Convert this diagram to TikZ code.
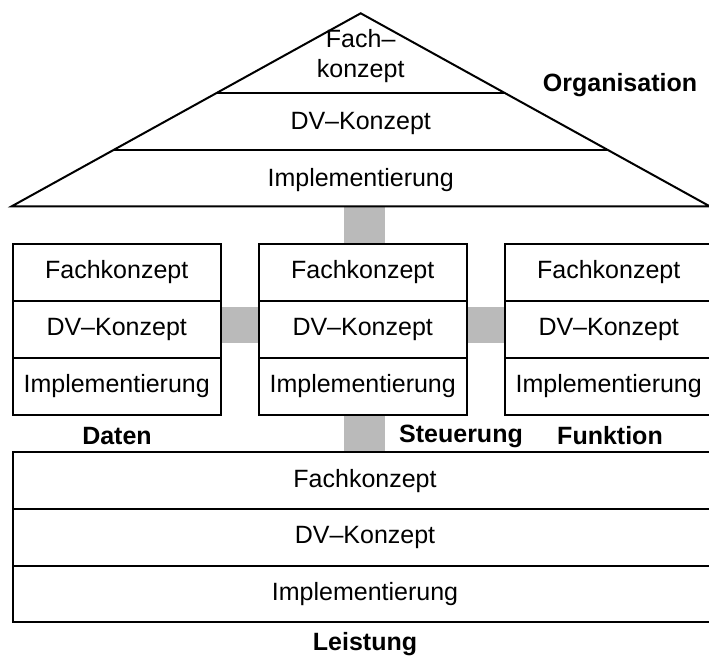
\documentclass[tikz,border=0pt]{standalone}
\usepackage{fontspec}
\setmainfont{Liberation Sans}
\usetikzlibrary{calc}
\begin{document}
\begin{tikzpicture}[x=1pt,y=-1pt,
  txt/.style={font=\fontsize{25}{30}\selectfont, inner sep=0pt, align=center},
  lbl/.style={font=\fontsize{25}{30}\selectfont\bfseries, inner sep=0pt},
  cell/.style={draw=black, line width=2pt, inner sep=0pt, outer sep=0pt,
    minimum height=57pt, anchor=north west, font=\fontsize{25}{30}\selectfont},
  narrowcell/.style={cell, minimum width=208pt},
  widecell/.style={cell, minimum width=704.6pt, minimum height=56.7pt},
  conn/.style={fill=black!27}
]
\useasboundingbox (0,0) rectangle (709,662);

% gray couplings between the views (drawn first, boxes lie on top)
\fill[conn] (344,206.3) rectangle (385.3,244);
\fill[conn] (344,415) rectangle (385.3,452.3);
\fill[conn] (220.7,306.7) rectangle (258.7,343.3);
\fill[conn] (466.7,306.7) rectangle (504.7,343.3);

% organisation roof
\coordinate (apex) at (360.7,13.3);
\coordinate (bl) at (11.7,206.3);
\coordinate (br) at (709.7,206.3);
\draw[line width=2pt, line join=miter] (bl) -- (apex) -- (br) -- cycle;
\draw[line width=2pt] ($(apex)!0.4145!(bl)$) -- ($(apex)!0.4145!(br)$);
\draw[line width=2pt] ($(apex)!0.7083!(bl)$) -- ($(apex)!0.7083!(br)$);
\node[txt] (oF) at (360.7,56) {Fach–\\konzept};
\node[txt] (oD) at (360.7,123) {DV–Konzept};
\node[txt] (oI) at (360.7,180) {Implementierung};
\node[lbl] (org) at (620,85) {Organisation};

% data view
\node[narrowcell] (dF) at (12.7,244) {Fachkonzept};
\node[narrowcell] (dD) at (dF.south west) {DV–Konzept};
\node[narrowcell] (dI) at (dD.south west) {Implementierung};
\node[lbl] (daten) at (117,436) {Daten};

% control view
\node[narrowcell] (sF) at (258.7,244) {Fachkonzept};
\node[narrowcell] (sD) at (sF.south west) {DV–Konzept};
\node[narrowcell] (sI) at (sD.south west) {Implementierung};
\node[lbl] (steu) at (461,436) {Steuerung};

% function view
\node[narrowcell] (fF) at (504.7,244) {Fachkonzept};
\node[narrowcell] (fD) at (fF.south west) {DV–Konzept};
\node[narrowcell] (fI) at (fD.south west) {Implementierung};
\node[lbl] (funk) at (610,436) {Funktion};

% output view
\node[widecell] (lF) at (12.7,452.3) {Fachkonzept};
\node[widecell] (lD) at (lF.south west) {DV–Konzept};
\node[widecell] (lI) at (lD.south west) {Implementierung};
\node[lbl] (leist) at (365,644) {Leistung};
\end{tikzpicture}
\end{document}
